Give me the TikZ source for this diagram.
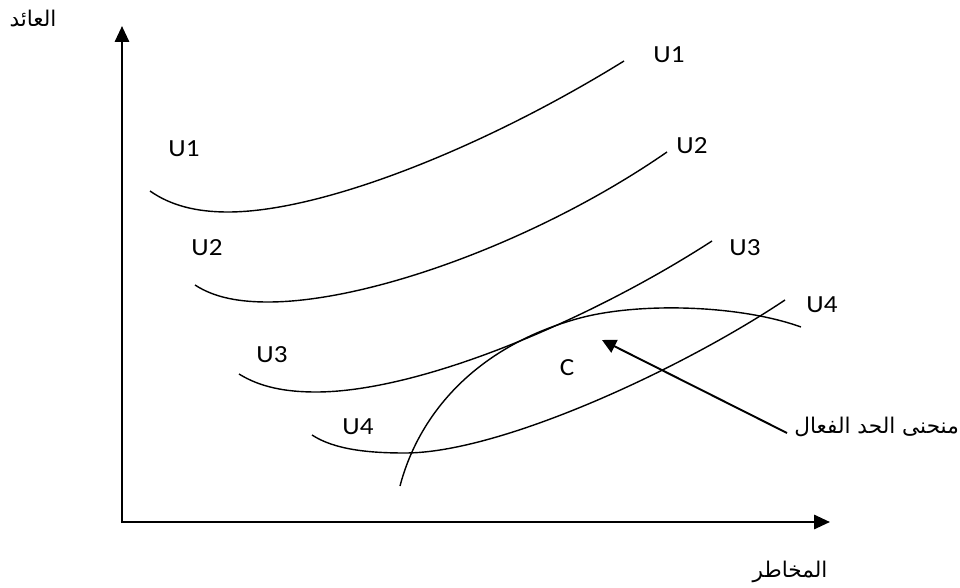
\documentclass[tikz,border=0pt]{standalone}
\usepackage{fontspec}
\setmainfont{Carlito}
\newfontfamily\arabicfont[Script=Arabic]{DejaVu Sans}
\TeXXeTstate=1
\usetikzlibrary{arrows.meta,positioning}

\begin{document}
\begin{tikzpicture}[x=0.02cm,y=-0.02cm,
    axis/.style={line width=1.4pt,-{Triangle[length=9pt,width=8pt]}},
    curve/.style={line width=0.8pt},
    ulbl/.style={font=\fontsize{14}{16}\selectfont,inner sep=0pt,xscale=1.1},
    arlbl/.style={font=\arabicfont\fontsize{12.3}{14}\selectfont,inner sep=0pt},
    pointer/.style={line width=1.1pt,-{Triangle[length=8pt,width=8pt]}}]
  \useasboundingbox (0,0) rectangle (960,588);
  % axes
  \coordinate (o) at (122,522);
  \coordinate (ytop) at (122,26);
  \coordinate (xend) at (830,522);
  \draw[axis] ([yshift=-0.7pt]o) -- (ytop);
  \draw[axis] ([xshift=-0.7pt]o) -- (xend);
  \node[arlbl] (ret) at (33,18) {\beginR العائد\endR};
  \node[arlbl] (risk) at (790,572) {\beginR المخاطر\endR};
  % indifference curves
  \draw[curve] (150,191) .. controls (170,205) and (195,212) .. (228,212)
    .. controls (320,212) and (480,150) .. (624,61);
  \draw[curve] (195,285) .. controls (215,298) and (240,302) .. (268,302)
    .. controls (370,302) and (540,240) .. (667,152);
  \draw[curve] (239,374) .. controls (260,387) and (285,392) .. (316,392)
    .. controls (420,392) and (590,320) .. (712,241);
  \draw[curve] (312,435) .. controls (335,450) and (370,453) .. (405,453)
    .. controls (500,453) and (680,370) .. (785,300);
  % efficient frontier
  \draw[curve] (400,486) .. controls (420,410) and (480,345) .. (580,318)
    .. controls (640,302) and (740,305) .. (801,327);
  % labels
  \node[ulbl] (u1a) at (184,149) {U1};
  \node[ulbl] (u1b) at (669,55) {U1};
  \node[ulbl] (u2a) at (207,248) {U2};
  \node[ulbl] (u2b) at (692,146) {U2};
  \node[ulbl] (u3a) at (272,355) {U3};
  \node[ulbl] (u3b) at (745,248) {U3};
  \node[ulbl] (u4a) at (358,427) {U4};
  \node[ulbl] (u4b) at (822,305) {U4};
  \node[ulbl] (c) at (567,368) {C};
  \node[arlbl,anchor=west] (front) at (794,427) {\beginR منحنى الحد الفعال\endR};
  \coordinate (tipc) at (602,340);
  \draw[pointer] ([shift={(-7,6)}]front.west) -- (tipc);
\end{tikzpicture}
\end{document}
